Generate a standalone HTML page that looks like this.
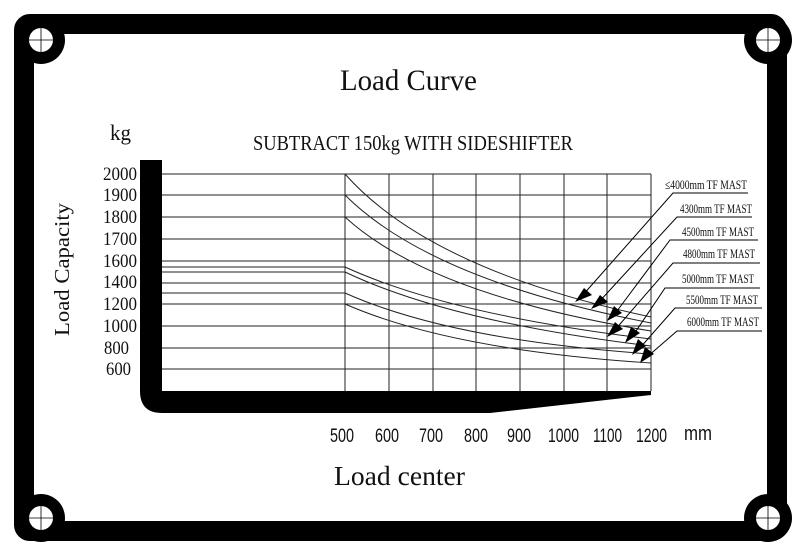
<!DOCTYPE html>
<html><head><meta charset="utf-8"><style>html,body{margin:0;padding:0;background:#fff}svg{display:block}</style></head>
<body>
<svg width="800" height="555" viewBox="0 0 800 555" xmlns="http://www.w3.org/2000/svg">
<rect width="800" height="555" fill="#fff"/>
<rect x="24" y="24" width="753" height="507" fill="none" stroke="#000" stroke-width="20" rx="6"/>
<g fill="#000">
<circle cx="41" cy="40" r="24"/><circle cx="768" cy="40" r="24"/>
<circle cx="41" cy="518" r="24"/><circle cx="768" cy="518" r="24"/>
</g>
<g fill="#fff">
<circle cx="41" cy="40" r="12"/><circle cx="768" cy="40" r="12"/>
<circle cx="41" cy="518" r="12"/><circle cx="768" cy="518" r="12"/>
</g>
<g stroke="#000" stroke-width="0.8">
<path d="M41 24v32M25 40h32M768 24v32M752 40h32M41 502v32M25 518h32M768 502v32M752 518h32"/>
</g>
<path d="M140 160 H162 V391 H651 V395 L490 413 H162 Q140 413 140 391 Z" fill="#000"/>
<g stroke="#222" stroke-width="1" fill="none">
<path d="M162 174H651M162 195H651M162 217H651M162 239H651M162 261H651M162 267H345M162 272H345M162 283H651M162 293H345M162 304H651M162 326H651M162 348H651M162 369H651"/>
<path d="M345 174V391M389 174V391M433 174V391M476 174V391M520 174V391M564 174V391M607 174V391M651 174V391"/>
<path d="M345 174 Q430 270 651 317"/>
<path d="M345 195 Q430 280 651 323"/>
<path d="M345 217 Q430 295 651 331"/>
<path d="M345 267 Q450 315 651 339"/>
<path d="M345 272 Q450 322 651 346"/>
<path d="M345 293 Q450 340 651 354"/>
<path d="M345 304 Q450 350 651 363"/>
</g>
<g stroke="#000" stroke-width="1" fill="none">
<path d="M748 193H673L582 296"/>
<path d="M752 217H677L598 303"/>
<path d="M758 240H670L614 315"/>
<path d="M760 263H673L614 331"/>
<path d="M760 288H665L632 337"/>
<path d="M762 308H675L639 349"/>
<path d="M762 331H677L647 357"/>
</g>
<g fill="#000">
<polygon points="575,302 584,288 592,295"/>
<polygon points="591,309 600,295 608,302"/>
<polygon points="607,321 614,306 622,313"/>
<polygon points="607,337 615,322 623,329"/>
<polygon points="625,343 631,327 640,333"/>
<polygon points="632,355 638,339 646,346"/>
<polygon points="640,363 645,347 654,354"/>
</g>
<g font-family="Liberation Serif, serif" font-size="13" fill="#111">
<text x="665" y="189" textLength="82" lengthAdjust="spacingAndGlyphs">≤4000mm TF MAST</text>
<text x="680" y="213" textLength="72" lengthAdjust="spacingAndGlyphs">4300mm TF MAST</text>
<text x="682" y="236" textLength="72" lengthAdjust="spacingAndGlyphs">4500mm TF MAST</text>
<text x="683" y="258" textLength="72" lengthAdjust="spacingAndGlyphs">4800mm TF MAST</text>
<text x="682" y="283" textLength="72" lengthAdjust="spacingAndGlyphs">5000mm TF MAST</text>
<text x="686" y="304" textLength="72" lengthAdjust="spacingAndGlyphs">5500mm TF MAST</text>
<text x="687" y="326" textLength="72" lengthAdjust="spacingAndGlyphs">6000mm TF MAST</text>
</g>
<g font-family="Liberation Serif, serif" fill="#111">
<text x="340" y="90" font-size="30" textLength="137" lengthAdjust="spacingAndGlyphs">Load Curve</text>
<text x="253" y="150" font-size="21" textLength="320" lengthAdjust="spacingAndGlyphs">SUBTRACT 150kg WITH SIDESHIFTER</text>
<text x="110" y="140" font-size="22" textLength="21" lengthAdjust="spacingAndGlyphs">kg</text>
<text x="334" y="485" font-size="27" textLength="131" lengthAdjust="spacingAndGlyphs">Load center</text>
<text transform="translate(69,336) rotate(-90)" font-size="21" textLength="133" lengthAdjust="spacingAndGlyphs">Load Capacity</text>
</g>
<g font-family="Liberation Serif, serif" font-size="19" fill="#111" text-anchor="end">
<text x="137" y="180" textLength="34" lengthAdjust="spacingAndGlyphs">2000</text>
<text x="137" y="201" textLength="34" lengthAdjust="spacingAndGlyphs">1900</text>
<text x="137" y="223" textLength="34" lengthAdjust="spacingAndGlyphs">1800</text>
<text x="137" y="245" textLength="34" lengthAdjust="spacingAndGlyphs">1700</text>
<text x="137" y="267" textLength="34" lengthAdjust="spacingAndGlyphs">1600</text>
<text x="137" y="288" textLength="34" lengthAdjust="spacingAndGlyphs">1400</text>
<text x="137" y="310" textLength="34" lengthAdjust="spacingAndGlyphs">1200</text>
<text x="137" y="332" textLength="34" lengthAdjust="spacingAndGlyphs">1000</text>
<text x="129" y="354" textLength="25" lengthAdjust="spacingAndGlyphs">800</text>
<text x="131" y="375" textLength="25" lengthAdjust="spacingAndGlyphs">600</text>
</g>
<g font-family="Liberation Sans, sans-serif" font-size="19" fill="#111">
<text x="330" y="442" textLength="24" lengthAdjust="spacingAndGlyphs">500</text>
<text x="375" y="442" textLength="24" lengthAdjust="spacingAndGlyphs">600</text>
<text x="419" y="442" textLength="24" lengthAdjust="spacingAndGlyphs">700</text>
<text x="464" y="442" textLength="24" lengthAdjust="spacingAndGlyphs">800</text>
<text x="507" y="442" textLength="24" lengthAdjust="spacingAndGlyphs">900</text>
<text x="548" y="442" textLength="31" lengthAdjust="spacingAndGlyphs">1000</text>
<text x="593" y="442" textLength="29" lengthAdjust="spacingAndGlyphs">1100</text>
<text x="636" y="442" textLength="31" lengthAdjust="spacingAndGlyphs">1200</text>
<text x="684" y="440" font-size="20" textLength="28" lengthAdjust="spacingAndGlyphs">mm</text>
</g>
</svg>
</body></html>
